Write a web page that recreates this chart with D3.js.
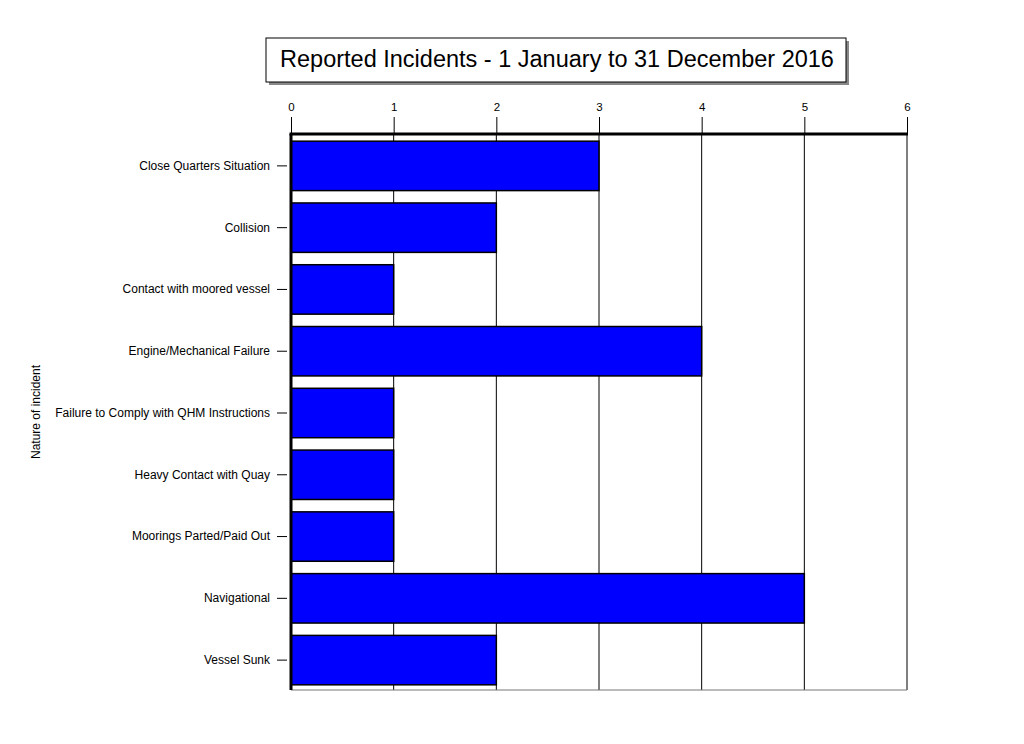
<!DOCTYPE html>
<html>
<head>
<meta charset="utf-8">
<script src="https://cdn.jsdelivr.net/npm/d3@7"></script>
<style>
  body { margin: 0; background: #fff; }
  svg { font-family: Arial, "Liberation Sans", sans-serif; }
</style>
</head>
<body>
<div id="chart"></div>
<script>
// Incident categories and counts
const categories = [
  'Close Quarters Situation',
  'Collision',
  'Contact with moored vessel',
  'Engine/Mechanical Failure',
  'Failure to Comply with QHM Instructions',
  'Heavy Contact with Quay',
  'Moorings Parted/Paid Out',
  'Navigational',
  'Vessel Sunk'
];
const counts = [3, 2, 1, 4, 1, 1, 1, 5, 2];
const xTicks = [0, 1, 2, 3, 4, 5, 6];

const width = 1024;
const height = 744;
const plotLeft = 291, plotRight = 907, plotTop = 134, plotBottom = 690;

const svg = d3.select('#chart')
  .append('svg')
  .attr('width', width)
  .attr('height', height);

const x = d3.scaleLinear().domain([0, 6]).range([plotLeft, plotRight]);
const y = d3.scaleBand().domain(categories).range([plotTop + 1, plotBottom + 1])
  .paddingInner(0.2).paddingOuter(0.1);

// Title box with shadow
svg.append('rect')
  .attr('x', 269).attr('y', 41)
  .attr('width', 580).attr('height', 44)
  .attr('fill', '#888');
svg.append('rect')
  .attr('x', 266).attr('y', 38)
  .attr('width', 580).attr('height', 44)
  .attr('fill', '#fff')
  .attr('stroke', '#000')
  .attr('stroke-width', 1);
svg.append('text')
  .attr('x', 557).attr('y', 67)
  .attr('text-anchor', 'middle')
  .attr('font-size', '23.5px')
  .attr('fill', '#000')
  .text('Reported Incidents - 1 January to 31 December 2016');

// Vertical grid lines
svg.selectAll('.grid')
  .data(xTicks)
  .enter()
  .append('line')
  .attr('class', 'grid')
  .attr('x1', d => x(d)).attr('x2', d => x(d))
  .attr('y1', plotTop).attr('y2', plotBottom)
  .attr('stroke', '#000')
  .attr('stroke-width', 1);

// Bottom border line
svg.append('line')
  .attr('x1', plotLeft).attr('x2', plotRight)
  .attr('y1', plotBottom).attr('y2', plotBottom)
  .attr('stroke', '#777')
  .attr('stroke-width', 1);

// Top axis
const xAxis = svg.append('g')
  .attr('transform', `translate(0,${plotTop})`)
  .call(d3.axisTop(x).tickValues(xTicks).tickSize(17).tickPadding(6).tickFormat(d3.format('d')));
xAxis.select('.domain').remove();
xAxis.selectAll('text').attr('font-size', '11.5px').attr('fill', '#000').attr('font-family', 'Arial');
xAxis.selectAll('line').attr('stroke', '#000');

// Bars
svg.selectAll('.bar')
  .data(counts)
  .enter()
  .append('rect')
  .attr('class', 'bar')
  .attr('x', x(0))
  .attr('y', (d, i) => y(categories[i]))
  .attr('width', d => x(d) - x(0))
  .attr('height', y.bandwidth())
  .attr('fill', '#0000ff')
  .attr('stroke', '#000')
  .attr('stroke-width', 1.5);

// Thick top and left axis lines
svg.append('line')
  .attr('x1', plotLeft - 1.5).attr('x2', plotRight + 1)
  .attr('y1', plotTop).attr('y2', plotTop)
  .attr('stroke', '#000').attr('stroke-width', 3);
svg.append('line')
  .attr('x1', plotLeft).attr('x2', plotLeft)
  .attr('y1', plotTop).attr('y2', plotBottom)
  .attr('stroke', '#000').attr('stroke-width', 3);

// Left axis: ticks and labels
const yAxis = svg.append('g')
  .attr('transform', `translate(${plotLeft - 4},0)`)
  .call(d3.axisLeft(y).tickSize(10).tickPadding(7));
yAxis.select('.domain').remove();
yAxis.selectAll('text').attr('font-size', '12px').attr('fill', '#000').attr('font-family', 'Arial');
yAxis.selectAll('line').attr('stroke', '#000');

// Y axis title
svg.append('text')
  .attr('transform', `translate(40,${(plotTop + plotBottom) / 2}) rotate(-90)`)
  .attr('text-anchor', 'middle')
  .attr('font-size', '12px')
  .attr('fill', '#000')
  .text('Nature of incident');
</script>
</body>
</html>
